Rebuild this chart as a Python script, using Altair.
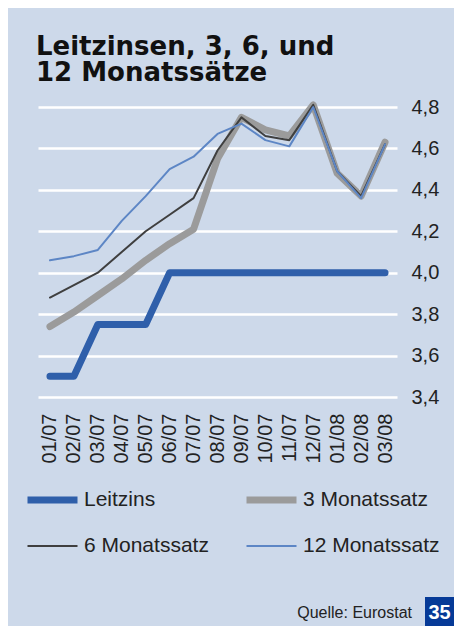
import altair as alt
import pandas as pd

months = ["01/07", "02/07", "03/07", "04/07", "05/07", "06/07", "07/07", "08/07",
          "09/07", "10/07", "11/07", "12/07", "01/08", "02/08", "03/08"]
leitzins = [3.50, 3.50, 3.75, 3.75, 3.75, 4.00, 4.00, 4.00, 4.00, 4.00, 4.00, 4.00, 4.00, 4.00, 4.00]
m3 = [3.74, 3.81, 3.89, 3.97, 4.06, 4.14, 4.21, 4.55, 4.75, 4.69, 4.66, 4.81, 4.48, 4.37, 4.63]
m6 = [3.88, 3.94, 4.00, 4.10, 4.20, 4.28, 4.36, 4.59, 4.75, 4.66, 4.64, 4.81, 4.49, 4.37, 4.62]
m12 = [4.06, 4.08, 4.11, 4.25, 4.37, 4.50, 4.56, 4.67, 4.72, 4.64, 4.61, 4.80, 4.49, 4.36, 4.62]

# drawing order (bottom to top)
series_names = ["Leitzins", "3 Monatssatz", "6 Monatssatz", "12 Monatssatz"]
series_values = [leitzins, m3, m6, m12]
# legend order (filled column by column)
legend_order = ["Leitzins", "6 Monatssatz", "3 Monatssatz", "12 Monatssatz"]
legend_colors = ["#2f5faa", "#3f3f3f", "#9b9b9b", "#5d86c5"]
legend_widths = [7, 2, 7, 2]
y_ticks = [3.4, 3.6, 3.8, 4.0, 4.2, 4.4, 4.6, 4.8]

rows = []
for name, vals in zip(series_names, series_values):
    for m, v in zip(months, vals):
        rows.append({"Monat": m, "Wert": v, "Serie": name})
df = pd.DataFrame(rows)

x_enc = alt.X("Monat:N", sort=months,
              scale=alt.Scale(type="point", padding=0.5),
              axis=alt.Axis(title=None, labelAngle=270, labelPadding=16, ticks=False,
                            domain=False, grid=False, labelFontSize=20,
                            labelFont="Liberation Sans", labelColor="#222222"))
y_enc = alt.Y("Wert:Q", scale=alt.Scale(domain=[3.4, 4.8], nice=False, zero=False),
              axis=alt.Axis(title=None, orient="right", values=y_ticks,
                            labelExpr="replace(format(datum.value, '.1f'), '.', ',')",
                            grid=True, gridColor="white", gridWidth=2.5,
                            domain=False, ticks=False, labelPadding=14,
                            labelFontSize=20, labelFont="Liberation Sans",
                            labelColor="#222222"))
color_enc = alt.Color("Serie:N", scale=alt.Scale(domain=legend_order, range=legend_colors),
                      legend=alt.Legend(title=None, orient="none", legendX=-14, legendY=381,
                                        columns=2, columnPadding=34, rowPadding=22,
                                        symbolType="stroke", symbolSize=2500, clipHeight=24,
                                        labelFontSize=21, labelFont="Liberation Sans",
                                        labelColor="#222222", labelOffset=3, labelLimit=300,
                                        padding=0))
sw_enc = alt.StrokeWidth("Serie:N", scale=alt.Scale(type="ordinal", domain=legend_order,
                                                     range=legend_widths))

layers = []
for name in series_names:
    layers.append(
        alt.Chart(df).transform_filter(alt.datum.Serie == name)
        .mark_line(strokeCap="round", strokeJoin="round")
        .encode(x=x_enc, y=y_enc, color=color_enc, strokeWidth=sw_enc)
    )

src = pd.DataFrame({"t": ["Quelle: Eurostat"]})
num = pd.DataFrame({"t": ["35"]})

src_text = alt.Chart(src).mark_text(align="right", baseline="alphabetic", fontSize=16,
                                    font="Liberation Sans", color="#222222").encode(
    x=alt.value(374), y=alt.value(511), text="t:N")
box = alt.Chart(num).mark_rect(color="#063a97").encode(
    x=alt.value(387), x2=alt.value(416), y=alt.value(490), y2=alt.value(519))
num_text = alt.Chart(num).mark_text(align="center", baseline="alphabetic", fontSize=20,
                                    font="Liberation Sans", fontWeight="bold",
                                    color="white").encode(
    x=alt.value(401.5), y=alt.value(512), text="t:N")

chart = alt.layer(*layers, src_text, box, num_text).properties(
    width=359, height=290,
    padding={"left": 30, "top": 99, "right": 57, "bottom": 229},
    autosize=alt.AutoSizeParams(type="none"),
    background="#cdd9ea",
    title=alt.TitleParams(text=["Leitzinsen, 3, 6, und", "12 Monatssätze"],
                          anchor="start", frame="group", fontSize=26,
                          font="DejaVu Sans", fontWeight="bold", lineHeight=26,
                          baseline="bottom", offset=-15, dx=-2, color="#111111"),
).configure_view(stroke=None)

chart.save("out.html", embed_options={"renderer": "svg", "actions": False})
